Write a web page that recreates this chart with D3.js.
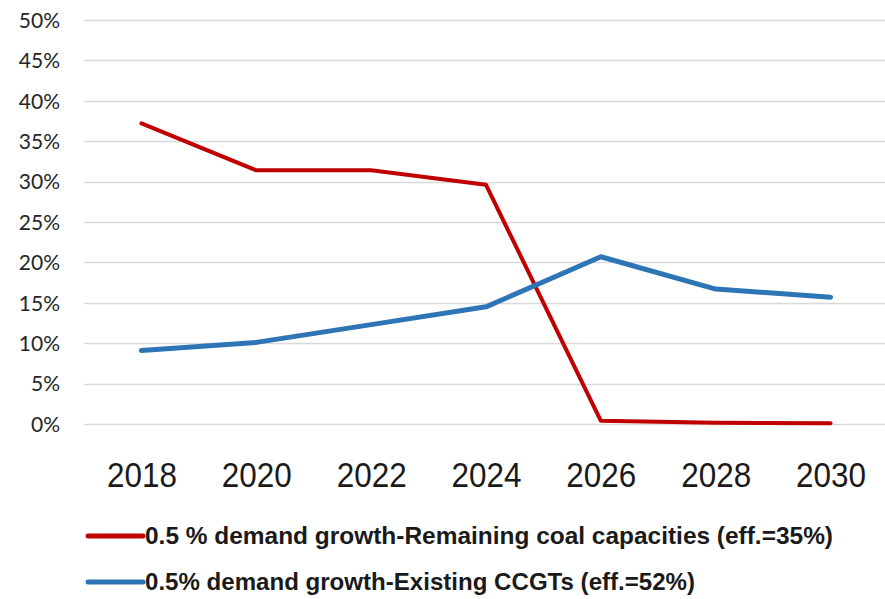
<!DOCTYPE html>
<html>
<head>
<meta charset="utf-8">
<script src="https://cdn.jsdelivr.net/npm/d3@7"></script>
<style>
  html, body { margin: 0; padding: 0; background: #ffffff; }
  svg { display: block; }
</style>
</head>
<body>
<svg id="chart" width="885" height="599"></svg>
<script>
const years = ["2018", "2020", "2022", "2024", "2026", "2028", "2030"];
const coalValues = [37.2, 31.4, 31.4, 29.6, 0.4, 0.15, 0.1];
const ccgtValues = [9.1, 10.1, 12.3, 14.5, 20.7, 16.7, 15.7];
const yTicks = [0, 5, 10, 15, 20, 25, 30, 35, 40, 45, 50];
const seriesNames = [
  "0.5 % demand growth-Remaining coal capacities (eff.=35%)",
  "0.5% demand growth-Existing CCGTs (eff.=52%)"
];
const seriesColors = ["#C00000", "#2E75B6"];

const svg = d3.select("#chart");
const plotLeft = 84, plotRight = 888, plotTop = 20, plotBottom = 424;

const x = d3.scalePoint().domain(years).range([plotLeft, plotRight]).padding(0.5);
const y = d3.scaleLinear().domain([0, 50]).range([plotBottom, plotTop]);

// gridlines
svg.append("g").selectAll("line").data(yTicks).join("line")
  .attr("x1", plotLeft).attr("x2", 885)
  .attr("y1", d => Math.round(y(d)) + 0.5).attr("y2", d => Math.round(y(d)) + 0.5)
  .attr("stroke", "#D9D9D9").attr("stroke-width", 1.5);

// y axis labels
const yAxis = d3.axisLeft(y).tickValues(yTicks).tickFormat(d => d + "%").tickSize(0).tickPadding(0);
const yg = svg.append("g").attr("transform", "translate(60,0)").call(yAxis);
yg.select(".domain").remove();
yg.selectAll("text")
  .attr("font-family", "Lato, 'Open Sans', sans-serif")
  .attr("font-size", 21)
  .attr("fill", "#262626")
  .attr("dy", "0.35em");

// x axis labels
const xAxis = d3.axisBottom(x).tickSize(0).tickPadding(0);
const xg = svg.append("g").attr("transform", "translate(0,487)").call(xAxis);
xg.select(".domain").remove();
xg.selectAll("text")
  .attr("font-family", "'Liberation Sans Narrow', 'Arial Narrow', sans-serif")
  .attr("font-size", 35)
  .attr("fill", "#1a1a1a")
  .attr("dy", 0)
  .attr("textLength", 70)
  .attr("lengthAdjust", "spacingAndGlyphs");

// lines
const line = d3.line().x((d, i) => x(years[i])).y(d => y(d));
const allSeries = [coalValues, ccgtValues];
svg.append("g").selectAll("path").data(allSeries).join("path")
  .attr("d", d => line(d))
  .attr("fill", "none")
  .attr("stroke", (d, i) => seriesColors[i])
  .attr("stroke-width", (d, i) => i === 0 ? 4 : 5)
  .attr("stroke-linejoin", "round")
  .attr("stroke-linecap", "round");

// legend
const legendY = [536, 582];
const legendW = [688, 550];
const lg = svg.append("g").selectAll("g").data(seriesNames).join("g")
  .attr("transform", (d, i) => `translate(0,${legendY[i]})`);
lg.append("line")
  .attr("x1", 88).attr("x2", 143).attr("y1", 0).attr("y2", 0)
  .attr("stroke", (d, i) => seriesColors[i]).attr("stroke-width", 5)
  .attr("stroke-linecap", "round");
lg.append("text")
  .attr("x", 145).attr("y", 0).attr("dy", "0.35em")
  .attr("font-family", "'Liberation Sans Narrow', 'Arial Narrow', sans-serif")
  .attr("font-size", 24)
  .attr("font-weight", "bold")
  .attr("fill", "#1a1a1a")
  .attr("textLength", (d, i) => legendW[i])
  .attr("lengthAdjust", "spacingAndGlyphs")
  .text(d => d);
</script>
</body>
</html>
